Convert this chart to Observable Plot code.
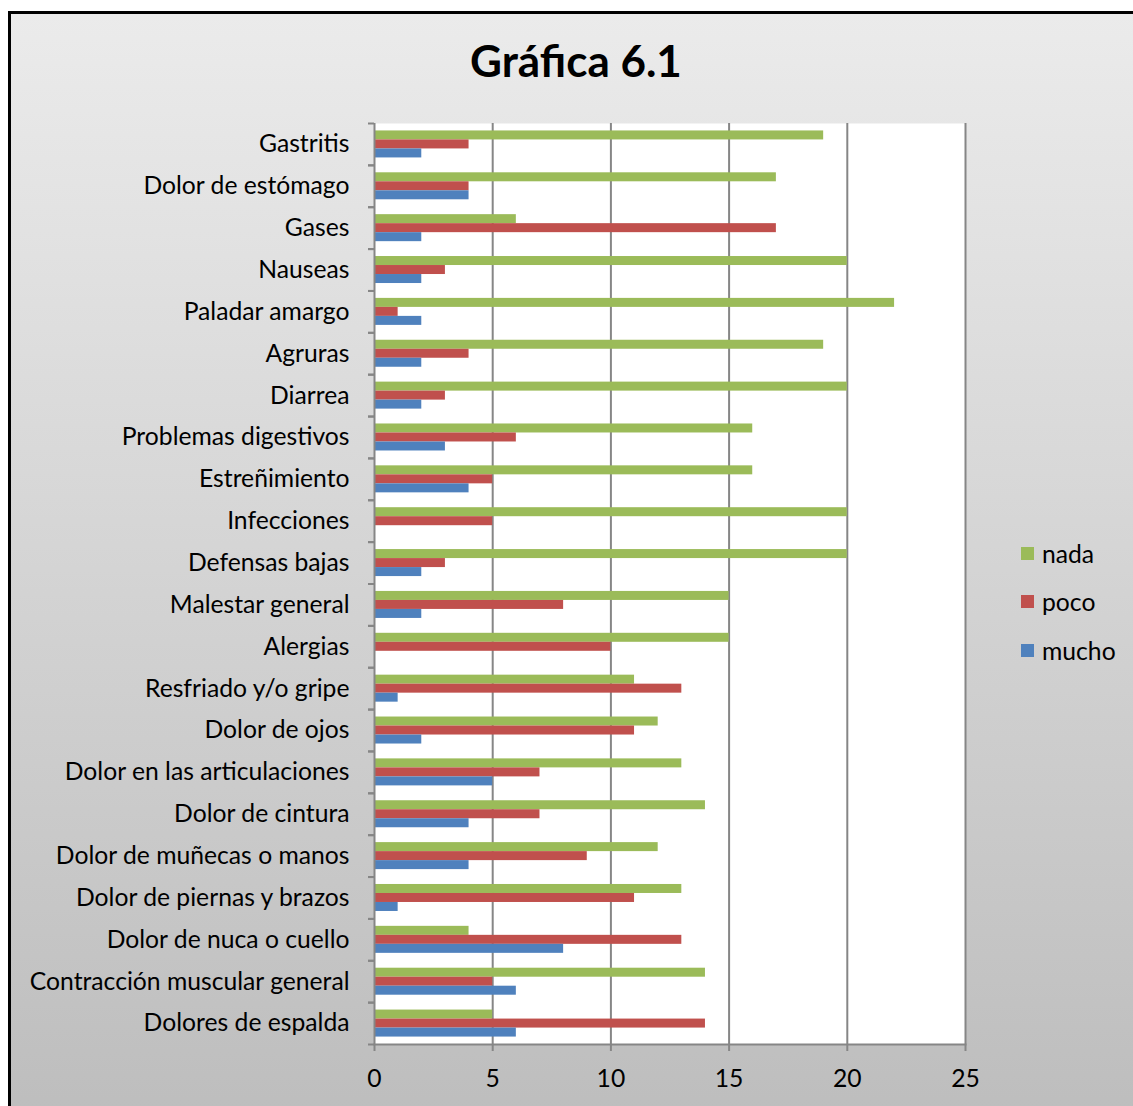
<!DOCTYPE html>
<html>
<head>
<meta charset="utf-8">
<script src="https://cdn.jsdelivr.net/npm/d3@7"></script>
<script src="https://cdn.jsdelivr.net/npm/@observablehq/plot@0.6"></script>
<style>
  html, body { margin: 0; padding: 0; }
  body { width: 1133px; height: 1106px; overflow: hidden; position: relative; font-family: Lato, "Open Sans", sans-serif; }
  #bg { position: absolute; left: 8px; top: 11px; width: 1140px; height: 1110px; border: 3px solid #000;
        background: linear-gradient(to bottom, #ebebeb 0%, #bdbdbd 100%); }
  #title { position: absolute; left: 0; width: 1152px; top: 38px; line-height: 1; text-align: center; font-weight: bold; font-size: 44px; color: #000; }
  #chart { position: absolute; left: 0; top: 0; }
  #legend { position: absolute; left: 1021px; top: 529px; font-size: 24.7px; color: #000; }
  #legend .item { display: flex; align-items: center; height: 48.5px; }
  #legend .sw { width: 13px; height: 13px; margin-right: 8px; }
</style>
</head>
<body>
<div id="bg"></div>
<div id="title">Gráfica 6.1</div>
<div id="chart"></div>
<div id="legend"></div>
<script>
const categories = [
  "Gastritis", "Dolor de estómago", "Gases", "Nauseas", "Paladar amargo", "Agruras",
  "Diarrea", "Problemas digestivos", "Estreñimiento", "Infecciones", "Defensas bajas",
  "Malestar general", "Alergias", "Resfriado y/o gripe", "Dolor de ojos",
  "Dolor en las articulaciones", "Dolor de cintura", "Dolor de muñecas o manos",
  "Dolor de piernas y brazos", "Dolor de nuca o cuello", "Contracción muscular general",
  "Dolores de espalda"
];
const nada  = [19, 17, 6, 20, 22, 19, 20, 16, 16, 20, 20, 15, 15, 11, 12, 13, 14, 12, 13, 4, 14, 5];
const poco  = [4, 4, 17, 3, 1, 4, 3, 6, 5, 5, 3, 8, 10, 13, 11, 7, 7, 9, 11, 13, 5, 14];
const mucho = [2, 4, 2, 2, 2, 2, 2, 3, 4, 0, 2, 2, 0, 1, 2, 5, 4, 4, 1, 8, 6, 6];
const seriesNames = ["nada", "poco", "mucho"];
const seriesColors = ["#9BBB59", "#C0504D", "#4F81BD"];
const xTicks = [0, 5, 10, 15, 20, 25];

const W = 1133, H = 1106;
const mL = 374, mR = W - 965, mT = 123, mB = H - 1044;
const bw = (H - mT - mB) / categories.length;
const barH = 9;
const groupTop = (bw - 3 * barH) / 2;

const seriesData = [nada, poco, mucho].map((vals, s) =>
  categories.map((c, i) => ({category: c, value: vals[i], series: seriesNames[s]})));

const axisColor = "#868686";
const fontFamily = "Lato, 'Open Sans', sans-serif";
const fs = 24.7;

const marks = [
  Plot.frame({fill: "white", stroke: null}),
  Plot.gridX(xTicks.filter(d => d > 0), {stroke: axisColor, strokeOpacity: 1, strokeWidth: 2}),
  ...seriesData.map((rows, s) => Plot.barX(rows, {
    x: "value", y: "category", fill: seriesColors[s],
    insetTop: groupTop + s * barH,
    insetBottom: bw - groupTop - (s + 1) * barH
  })),
  Plot.ruleX([0], {stroke: axisColor, strokeWidth: 2}),
  Plot.frame({anchor: "bottom", stroke: axisColor, strokeWidth: 2}),
  Plot.axisY({tickSize: 0, tickPadding: 25, fontSize: fs, fill: "#000", fontFamily, label: null}),
  Plot.axisY({tickSize: 6, text: null, stroke: axisColor, strokeWidth: 2, dy: -bw / 2, label: null}),
  Plot.axisY({tickSize: 6, text: null, stroke: axisColor, strokeWidth: 2, dy: bw / 2, label: null}),
  Plot.axisX({ticks: xTicks, tickSize: 7, tickPadding: 18, fontSize: fs, fill: "#000", stroke: axisColor, strokeWidth: 2, fontFamily, label: null, tickFormat: d => String(d)})
];

const chart = Plot.plot({
  width: W, height: H,
  marginLeft: mL, marginRight: mR, marginTop: mT, marginBottom: mB,
  style: {background: "transparent", fontFamily, overflow: "visible"},
  x: {domain: [0, 25], axis: null, label: null},
  y: {domain: categories, type: "band", padding: 0, round: false, axis: null, label: null},
  marks
});
document.getElementById("chart").appendChild(chart);

const legend = document.getElementById("legend");
seriesNames.forEach((n, i) => {
  const item = document.createElement("div");
  item.className = "item";
  const sw = document.createElement("span");
  sw.className = "sw";
  sw.style.background = seriesColors[i];
  const t = document.createElement("span");
  t.textContent = n;
  item.appendChild(sw); item.appendChild(t);
  legend.appendChild(item);
});
</script>
</body>
</html>
